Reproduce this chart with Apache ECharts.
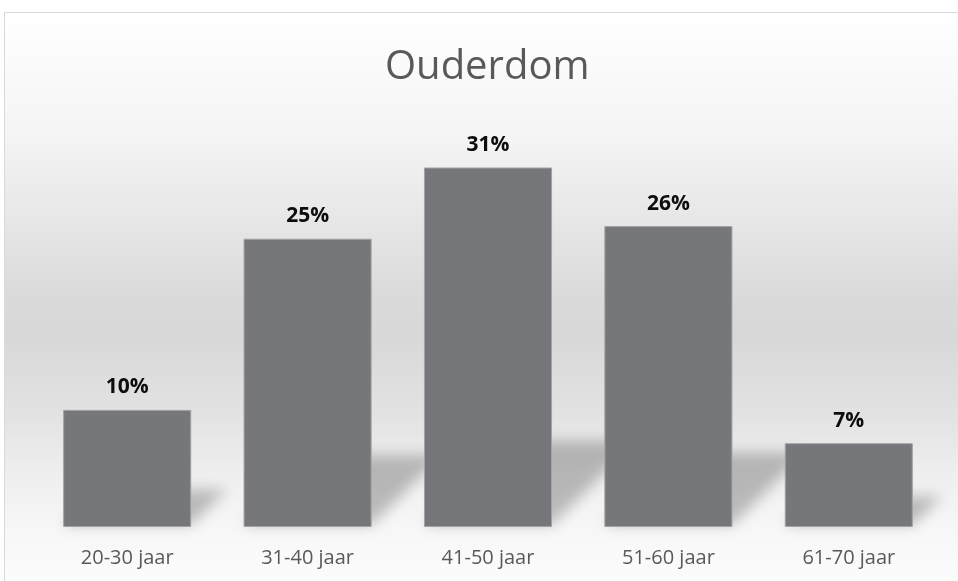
<!DOCTYPE html>
<html>
<head>
<meta charset="utf-8">
<script src="https://cdn.jsdelivr.net/npm/echarts@6/dist/echarts.min.js"></script>
<style>
  html, body { margin: 0; padding: 0; background: #ffffff; overflow: hidden; }
  #frame {
    position: absolute; left: 4px; top: 12px; width: 970px; height: 590px;
    border: 1px solid #d9d9d9; box-sizing: border-box;
    background: linear-gradient(to bottom,
      #ffffff 0%, #f5f5f5 20%, #e7e7e7 35%, #dadada 48%, #d8d8d8 55%,
      #e2e2e2 68%, #ededed 77%, #f7f7f7 88%, #fcfcfc 97%);
  }
  #chart { position: absolute; left: 0; top: 0; width: 958px; height: 581px; }
</style>
</head>
<body>
<div id="frame"></div>
<div id="chart"></div>
<script>
const titleText = 'Ouderdom';
const categories = ['20-30 jaar', '31-40 jaar', '41-50 jaar', '51-60 jaar', '61-70 jaar'];
const values = [10.2, 25.1, 31.3, 26.2, 7.3];

const chart = echarts.init(document.getElementById('chart'), null, { renderer: 'canvas' });

const BAR_RATIO = 0.71;
const SHIFT = 3000;

const option = {
  backgroundColor: 'transparent',
  animation: false,
  title: {
    text: titleText,
    left: 385,
    top: 48,
    padding: 0,
    textStyle: { fontFamily: 'Open Sans', fontSize: 40, fontWeight: 'normal', color: '#595959' }
  },
  grid: { left: 37, right: 19, top: 125, bottom: 54, containLabel: false },
  xAxis: {
    type: 'category',
    data: categories,
    axisLine: { show: false },
    axisTick: { show: false },
    axisLabel: { fontFamily: 'Open Sans', fontSize: 20, color: '#595959', margin: 21 }
  },
  yAxis: {
    type: 'value', min: 0, max: 35, show: false,
    splitLine: { show: false }
  },
  series: [
    {
      type: 'custom',
      z: 1,
      silent: true,
      clip: false,
      data: values.map((v, i) => [i, v]),
      renderItem: function (params, api) {
        const base = api.coord([api.value(0), 0]);
        const top = api.coord([api.value(0), api.value(1)]);
        const w = api.size([1, 0])[0] * BAR_RATIO;
        const barH = base[1] - top[1];
        const h = barH * 0.2 + 12;
        const k = 1.0;
        const l = base[0] - w / 2 - SHIFT, r = base[0] + w / 2 - SHIFT, b = base[1] - 2;
        return {
          type: 'polygon',
          shape: { points: [[l, b], [r, b], [r + k * h, b - h], [l + k * h, b - h]] },
          style: {
            fill: '#000',
            shadowBlur: 14,
            shadowOffsetX: SHIFT,
            shadowOffsetY: 0,
            shadowColor: 'rgba(0,0,0,0.24)'
          }
        };
      }
    },
    {
      type: 'bar',
      z: 2,
      data: values,
      barWidth: (BAR_RATIO * 100) + '%',
      itemStyle: { color: '#76777b', borderColor: '#a3a3a6', borderWidth: 1 },
      label: {
        show: true,
        position: 'top',
        distance: 12,
        fontFamily: 'Open Sans',
        fontSize: 21,
        fontWeight: 'bold',
        color: '#0d0d0d',
        formatter: p => Math.round(p.value) + '%'
      }
    }
  ]
};
chart.setOption(option);
</script>
</body>
</html>
